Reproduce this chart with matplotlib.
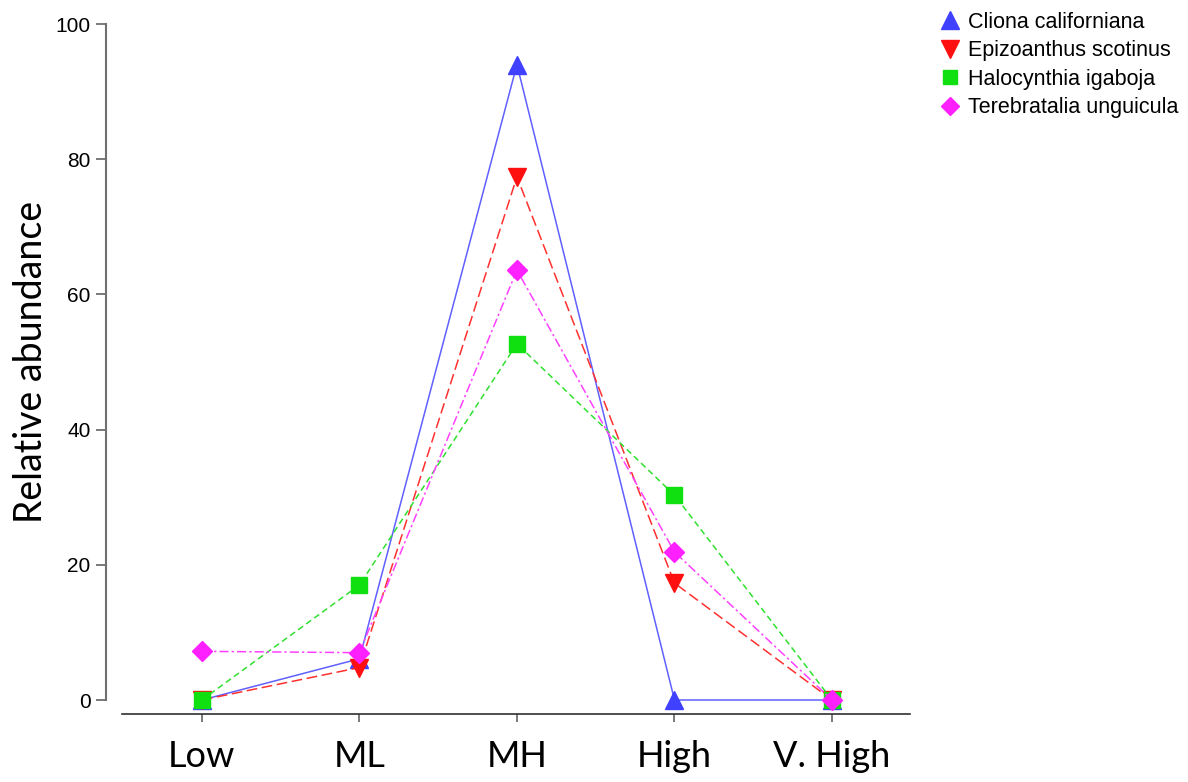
import numpy as np
import matplotlib.pyplot as plt
from matplotlib.lines import Line2D

# categories and relative abundance per species
categories = ['Low', 'ML', 'MH', 'High', 'V. High']
cliona = [0, 6.1, 94.0, 0, 0]
epizoanthus = [0, 4.8, 77.4, 17.3, 0]
halocynthia = [0, 17.0, 52.7, 30.3, 0]
terebratalia = [7.2, 7.0, 63.6, 21.9, 0]

species = ['Cliona californiana', 'Epizoanthus scotinus',
           'Halocynthia igaboja', 'Terebratalia unguicula']
values = [cliona, epizoanthus, halocynthia, terebratalia]
colors = ['#4040ff', '#ff1010', '#10e010', '#ff20ff']
line_colors = ['#6060ff', '#ff3030', '#30e030', '#ff40ff']
markers = ['^', 'v', 's', 'D']
msizes = [13, 13, 11, 10]
styles = ['-', (0, (7, 3)), (0, (4, 2.5)), (0, (6, 2, 1.5, 2))]

fig = plt.figure(figsize=(11.88, 7.82), dpi=100)
ax = fig.add_axes([122/1188, 1 - 714/782, (910 - 122)/1188, (714 - 24)/782])

x = np.arange(len(categories))
for vals, c, lc, m, ms, ls in zip(values, colors, line_colors, markers, msizes, styles):
    ax.plot(x, vals, color=lc, linestyle=ls, linewidth=1.1, clip_on=False)
    ax.plot(x, vals, linestyle='none', marker=m, markersize=ms,
            markerfacecolor=c, markeredgecolor=c, clip_on=False)

ax.spines['top'].set_visible(False)
ax.spines['right'].set_visible(False)
ax.spines['left'].set_bounds(0, 100)
ax.spines['left'].set_position(('outward', 11.5))
ax.spines['left'].set_color('#707070')
ax.spines['left'].set_linewidth(1.5)
ax.spines['bottom'].set_color('#303030')
ax.spines['bottom'].set_linewidth(1.2)

ax.set_xlim(-0.507, 4.495)
ax.set_ylim(-2.07, 100)
ax.set_yticks([0, 20, 40, 60, 80, 100])
ax.set_xticks(x)
ax.set_xticklabels(categories)
ax.tick_params(axis='y', length=7, width=1.3, color='#707070', pad=4,
               labelsize=15, labelfontfamily='Liberation Sans')
ax.tick_params(axis='x', length=6, width=1.3, color='#707070', pad=13,
               labelsize=26, labelfontfamily='Lato')

ax.set_ylabel('Relative abundance', fontfamily='Lato', fontsize=27)
ax.yaxis.set_label_coords(-0.093, 0.51)

handles = [Line2D([], [], linestyle='none', marker=m, markersize=ms * 0.95,
                  markerfacecolor=c, markeredgecolor=c)
           for c, m, ms in zip(colors, markers, msizes)]
fig.legend(handles, species, loc='upper left', bbox_to_anchor=(918/1188, 1.01),
           frameon=False, prop={'family': 'Liberation Sans', 'size': 15.5},
           handletextpad=0.2, labelspacing=0.35, handlelength=1.2)

fig.savefig('out.png', dpi=100)
